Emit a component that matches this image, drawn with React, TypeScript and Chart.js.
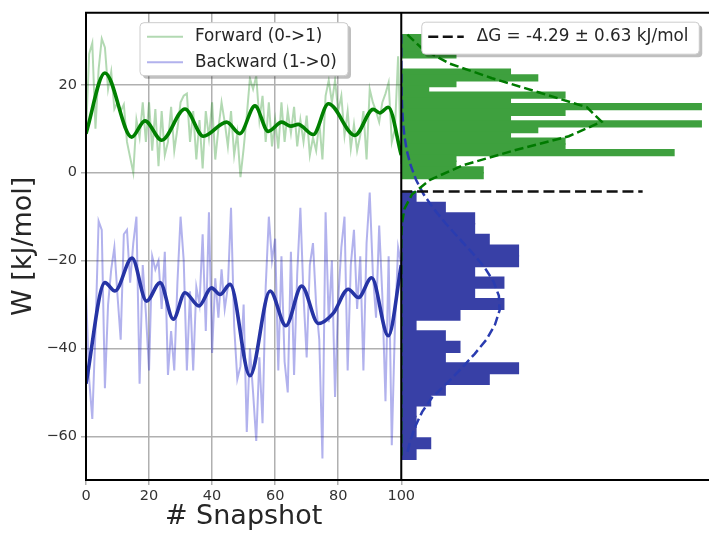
import React, { useEffect, useRef } from "react";
import { Chart, registerables } from "chart.js";

Chart.register(...registerables);

// ---------------- data ----------------
const snapshots = Array.from({ length: 101 }, (_, i) => i);

const forwardRaw = [
  9, 27, 29.5, 10, 23.5, 30.5, 28.5, 19, 23, 14.5,
  16, 14, 15.5, 7, 3.5, 0, 12, 8, 16, 7,
  16, 5, 14.5, 1.5, 14, 4, 7, 15, 5, 10,
  16, 17.5, 18, 7, 14, 3, 12, 1, 14, 8,
  16, 3, 10, 16, 11.5, 6, 14, 4, 9, -1,
  5.5, 13, 21.5, 19, 22, 12, 17.5, 7, 16, 6,
  12, 5.5, 16, 7, 14, 9, 15, 6, 12, 7,
  13, 4, 8, 5, 11.5, 3, 17.5, 21, 16, 21,
  14, 17.5, 8.5, 14, 5.5, 11, 5, 8.5, 14, 3,
  19, 16, 14, 11.5, 16, 18, 20.5, 7, 10, 26.5,
  2,
];

const backwardRaw = [
  -27, -47, -56, -36, -11, -13, -49, -30, -22, -17,
  -28, -38, -14, -13, -25, -16, -10, -48, -21, -32,
  -45, -19, -22, -20, -31, -18, -46, -36, -45, -25,
  -10, -20, -45, -27, -45, -26, -30, -14, -36, -9,
  -41, -24, -33, -22, -31, -26, -8, -35, -47, -44,
  -30, -59, -40, -50, -61, -42, -57, -26, -10, -20,
  -15, -45, -19, -43, -50, -18, -46, -23, -8, -28,
  -42, -21, -16, -30, -38, -65, -9, -34, -20, -51,
  -29, -17, -10, -45, -21, -13, -31, -19, -45, -16,
  -4.5, -23, -33, -12, -28, -52, -19, -62, -35, -17,
  -21,
];

// smoothed curves (read at their turning points)
const forwardSmoothX = [0, 6, 14.5, 18.7, 24, 31.4, 37.2, 44.6, 48.8, 53.6, 57.8, 62.1, 65, 67.3, 72.1, 76.9, 85.3, 91.1, 93.2, 95.9, 100];
const forwardSmoothY = [8.9, 22.7, 8.1, 11.8, 7.4, 14.5, 8.3, 11.5, 8.9, 15.2, 9.4, 11.5, 10.6, 11.0, 8.7, 15.7, 8.5, 14.4, 13.6, 14.9, 4.0];

const backwardSmoothX = [0, 6, 9.2, 14.6, 19.2, 23.5, 27.7, 31.4, 35.8, 39.8, 42.5, 45.7, 52, 58.4, 63.4, 68.4, 73.7, 78.4, 83.2, 86.4, 90.6, 95.9, 100];
const backwardSmoothY = [-48, -25, -26.9, -19.4, -29.2, -25.0, -33.3, -27.3, -30.3, -26.2, -27.7, -25.4, -46.2, -26.9, -34.8, -25.8, -34.3, -32.0, -26.5, -28.4, -23.9, -37.1, -21.0];

// histograms
const N_SAMPLES = 101;
const forwardBinTop = 31.4;
const forwardBinWidth = 1.308;
const forwardCounts = [2, 2, 2, 2, 0, 0, 4, 5, 2, 1, 6, 4, 11, 6, 4, 11, 5, 4, 6, 6, 10, 2, 2, 3, 3];
const backwardBinTop = -4.3;
const backwardBinWidth = 2.436;
const backwardCounts = [1, 3, 5, 5, 6, 8, 8, 5, 7, 5, 7, 4, 1, 3, 4, 3, 8, 6, 3, 2, 1, 1, 1, 2, 1];

// fitted gaussian curves (density)
const gaussW = [31.4, 28.1, 24.8, 21.5, 18.2, 14.9, 11.6, 8.3, 5.0, 1.7, -1.6, -4.9, -8.2, -11.5, -14.8, -18.1, -21.4, -24.7, -28.0, -31.3, -34.6, -37.9, -41.2, -44.5, -47.8, -51.1, -54.4, -57.7, -61.0, -64.3];
const forwardGauss = [0.0017, 0.006, 0.0135, 0.0252, 0.0385, 0.0515, 0.0556, 0.0465, 0.031, 0.0172, 0.008, 0.003, 0.0009, 0.0002, 0.00003, 0, 0, 0, 0, 0, 0, 0, 0, 0, 0, 0, 0, 0, 0, 0];
const backwardGauss = [0.000004, 0.00001, 0.00002, 0.00005, 0.0001, 0.00024, 0.00047, 0.00089, 0.00155, 0.0026, 0.0041, 0.0062, 0.009, 0.0123, 0.0159, 0.0196, 0.023, 0.0256, 0.0271, 0.0273, 0.026, 0.0237, 0.0204, 0.0167, 0.0128, 0.0086, 0.0058, 0.0039, 0.0025, 0.0015];

const deltaG = -4.29;
const deltaGErr = 0.63;
const deltaGLineEnd = 0.067;

const xTickValues = [0, 20, 40, 60, 80, 100];
const yTickValues = [-60, -40, -20, 0, 20];

const legendLabels = ["Forward (0->1)", "Backward (1->0)"];
const deltaGLabel = `\u0394G = ${deltaG.toFixed(2)} \u00b1 ${deltaGErr.toFixed(2)} kJ/mol`;

// ---------------- styles ----------------
const FONT = '"DejaVu Sans", "Liberation Sans", sans-serif';
const C_RAW_F = "rgba(0,128,0,0.3)";
const C_RAW_B = "rgba(20,20,200,0.33)";
const C_SM_F = "#008000";
const C_SM_B = "rgb(38,52,165)";
const C_BAR_F = "rgb(62,160,62)";
const C_BAR_B = "rgb(56,64,166)";
const C_GAUSS_F = "#007a00";
const C_GAUSS_B = "#2a3cb0";
const GRID = "#b0b0b0";
const TEXT = "#262626";

function fmtTick(v: number) {
  return v < 0 ? "\u2212" + Math.abs(v) : String(v);
}

function roundRectPath(ctx: CanvasRenderingContext2D, x: number, y: number, w: number, h: number, r: number) {
  ctx.beginPath();
  ctx.moveTo(x + r, y);
  ctx.arcTo(x + w, y, x + w, y + h, r);
  ctx.arcTo(x + w, y + h, x, y + h, r);
  ctx.arcTo(x, y + h, x, y, r);
  ctx.arcTo(x, y, x + w, y, r);
  ctx.closePath();
}

const maskPlugin = {
  id: "rightPanelMask",
  beforeDatasetsDraw(chart: any) {
    const { ctx, chartArea } = chart;
    const x2 = chart.scales.x2;
    ctx.save();
    ctx.fillStyle = "#ffffff";
    ctx.fillRect(x2.left + 1, chartArea.top, x2.right - x2.left, chartArea.bottom - chartArea.top);
    ctx.restore();
  },
};

const framePlugin = {
  id: "panelFrame",
  afterDatasetsDraw(chart: any) {
    const { ctx, chartArea } = chart;
    const x2 = chart.scales.x2;
    ctx.save();
    ctx.strokeStyle = "#000";
    ctx.lineWidth = 2;
    ctx.beginPath();
    ctx.moveTo(chartArea.left, chartArea.top);
    ctx.lineTo(chartArea.right, chartArea.top);
    ctx.moveTo(chartArea.left, chartArea.bottom);
    ctx.lineTo(chartArea.right, chartArea.bottom);
    ctx.moveTo(chartArea.left, chartArea.top - 1);
    ctx.lineTo(chartArea.left, chartArea.bottom + 1);
    ctx.moveTo(x2.left, chartArea.top - 1);
    ctx.lineTo(x2.left, chartArea.bottom + 1);
    ctx.moveTo(chartArea.right, chartArea.top - 1);
    ctx.lineTo(chartArea.right, chartArea.bottom + 1);
    ctx.stroke();
    ctx.restore();
  },
};

const legendPlugin = {
  id: "legendBoxes",
  afterDraw(chart: any) {
    const { ctx, chartArea } = chart;
    const x2 = chart.scales.x2;
    const box = (x: number, y: number, w: number, h: number) => {
      ctx.fillStyle = "rgba(0,0,0,0.25)";
      roundRectPath(ctx, x + 3, y + 3, w, h, 4);
      ctx.fill();
      ctx.fillStyle = "#ffffff";
      roundRectPath(ctx, x, y, w, h, 4);
      ctx.fill();
      ctx.strokeStyle = "#cccccc";
      ctx.lineWidth = 1;
      ctx.stroke();
    };
    ctx.save();
    ctx.font = `16.8px ${FONT}`;
    ctx.textBaseline = "middle";
    ctx.textAlign = "left";

    // left legend
    const lx = chartArea.left + 54;
    const ly = chartArea.top + 10;
    box(lx, ly, 208, 53);
    const rows = [
      { label: legendLabels[0], color: C_RAW_F, y: ly + 14 },
      { label: legendLabels[1], color: C_RAW_B, y: ly + 39.5 },
    ];
    rows.forEach((r) => {
      ctx.strokeStyle = r.color;
      ctx.lineWidth = 2;
      ctx.setLineDash([]);
      ctx.beginPath();
      ctx.moveTo(lx + 7, r.y);
      ctx.lineTo(lx + 43, r.y);
      ctx.stroke();
      ctx.fillStyle = TEXT;
      ctx.fillText(r.label, lx + 55, r.y);
    });

    // right legend
    const rx = x2.left + 20.5;
    const ry = chartArea.top + 9.5;
    box(rx, ry, 277.5, 32);
    const cy = ry + 14.5;
    ctx.strokeStyle = "#111";
    ctx.lineWidth = 2.5;
    ctx.setLineDash([10, 4.5]);
    ctx.beginPath();
    ctx.moveTo(rx + 6.5, cy);
    ctx.lineTo(rx + 42, cy);
    ctx.stroke();
    ctx.setLineDash([]);
    ctx.fillStyle = TEXT;
    ctx.fillText(deltaGLabel, rx + 55, cy);
    ctx.restore();
  },
};

export default function App() {
  const ref = useRef<HTMLCanvasElement>(null);

  useEffect(() => {
    const canvas = ref.current;
    if (!canvas) return;

    const fCenters = forwardCounts.map((_, k) => forwardBinTop - forwardBinWidth * (k + 0.5));
    const bCenters = backwardCounts.map((_, k) => backwardBinTop - backwardBinWidth * (k + 0.5));

    const chart = new Chart(canvas, {
      type: "line",
      data: {
        datasets: [
          {
            type: "line",
            data: [{ x: 0, y: deltaG }, { x: deltaGLineEnd, y: deltaG }],
            xAxisID: "x2",
            yAxisID: "y",
            borderColor: "#111",
            borderWidth: 2.5,
            borderDash: [11, 4.8],
            pointRadius: 0,
            order: 1,
          } as any,
          {
            type: "line",
            indexAxis: "y",
            data: gaussW.map((w, k) => ({ x: forwardGauss[k], y: w })),
            xAxisID: "x2",
            yAxisID: "y",
            borderColor: C_GAUSS_F,
            borderWidth: 2.5,
            borderDash: [9, 4],
            pointRadius: 0,
            tension: 0,
            order: 2,
          } as any,
          {
            type: "line",
            indexAxis: "y",
            data: gaussW.map((w, k) => ({ x: backwardGauss[k], y: w })),
            xAxisID: "x2",
            yAxisID: "y",
            borderColor: C_GAUSS_B,
            borderWidth: 2.5,
            borderDash: [9, 4],
            pointRadius: 0,
            tension: 0,
            order: 2,
          } as any,
          {
            type: "bar",
            indexAxis: "y",
            data: forwardCounts.map((c, k) => ({ x: c / (N_SAMPLES * forwardBinWidth), y: fCenters[k] })),
            xAxisID: "x2",
            yAxisID: "y",
            backgroundColor: C_BAR_F,
            borderWidth: 0,
            inflateAmount: 0.7,
            grouped: false,
            barPercentage: 1,
            categoryPercentage: 1,
            order: 3,
          } as any,
          {
            type: "bar",
            indexAxis: "y",
            data: backwardCounts.map((c, k) => ({ x: c / (N_SAMPLES * backwardBinWidth), y: bCenters[k] })),
            xAxisID: "x2",
            yAxisID: "y",
            backgroundColor: C_BAR_B,
            borderWidth: 0,
            inflateAmount: 0.7,
            grouped: false,
            barPercentage: backwardBinWidth / forwardBinWidth,
            categoryPercentage: 1,
            order: 3,
          } as any,
          {
            type: "line",
            data: forwardSmoothX.map((x, k) => ({ x, y: forwardSmoothY[k] })),
            xAxisID: "x",
            yAxisID: "y",
            borderColor: C_SM_F,
            borderWidth: 3.6,
            pointRadius: 0,
            cubicInterpolationMode: "monotone",
            order: 4,
          } as any,
          {
            type: "line",
            data: backwardSmoothX.map((x, k) => ({ x, y: backwardSmoothY[k] })),
            xAxisID: "x",
            yAxisID: "y",
            borderColor: C_SM_B,
            borderWidth: 3.6,
            pointRadius: 0,
            cubicInterpolationMode: "monotone",
            order: 4,
          } as any,
          {
            type: "line",
            data: snapshots.map((s, k) => ({ x: s, y: forwardRaw[k] })),
            xAxisID: "x",
            yAxisID: "y",
            borderColor: C_RAW_F,
            borderWidth: 2,
            pointRadius: 0,
            tension: 0,
            order: 5,
          } as any,
          {
            type: "line",
            data: snapshots.map((s, k) => ({ x: s, y: backwardRaw[k] })),
            xAxisID: "x",
            yAxisID: "y",
            borderColor: C_RAW_B,
            borderWidth: 2,
            pointRadius: 0,
            tension: 0,
            order: 5,
          } as any,
        ],
      },
      options: {
        responsive: false,
        animation: false,
        devicePixelRatio: 1,
        events: [],
        layout: { padding: { left: 0, top: 10, right: 23.5, bottom: 0 } },
        plugins: {
          legend: { display: false },
          tooltip: { enabled: false },
        },
        scales: {
          x: {
            type: "linear",
            position: "bottom",
            stack: "bottomRow",
            stackWeight: 1,
            offset: false,
            min: 0,
            max: 100,
            afterFit: (s: any) => {
              s.height = 56;
            },
            afterBuildTicks: (s: any) => {
              s.ticks = xTickValues.map((v) => ({ value: v }));
            },
            ticks: {
              font: { family: FONT, size: 14.5 },
              color: "#333333",
              padding: 3,
              maxRotation: 0,
              autoSkip: false,
              callback: (v: any) => fmtTick(Number(v)),
            },
            grid: { color: GRID, lineWidth: 1.5, tickLength: 5, offset: false },
            border: { display: true, color: "#000", width: 2 },
            title: {
              display: true,
              text: "# Snapshot",
              font: { family: FONT, size: 27 },
              color: TEXT,
              padding: { top: 0, bottom: 2.5 },
            },
          },
          x2: {
            type: "linear",
            position: "bottom",
            stack: "bottomRow",
            stackWeight: 1,
            offset: false,
            min: 0,
            max: 0.0875,
            afterFit: (s: any) => {
              s.height = 56;
            },
            ticks: { display: false },
            grid: { display: false, offset: false },
            border: { display: true, color: "#000", width: 2 },
          },
          y: {
            type: "linear",
            position: "left",
            offset: false,
            min: -69.9,
            max: 36.4,
            afterFit: (s: any) => {
              s.width = 86;
            },
            afterBuildTicks: (s: any) => {
              s.ticks = yTickValues.map((v) => ({ value: v }));
            },
            ticks: {
              font: { family: FONT, size: 14.5 },
              color: "#333333",
              padding: 4,
              callback: (v: any) => fmtTick(Number(v)),
            },
            grid: { color: GRID, lineWidth: 1.5, tickLength: 5, offset: false },
            border: { display: true, color: "#000", width: 2 },
            title: {
              display: true,
              text: "W [kJ/mol]",
              font: { family: FONT, size: 27 },
              color: TEXT,
              padding: { top: 8, bottom: 0 },
            },
          },
        } as any,
      },
      plugins: [maskPlugin, framePlugin, legendPlugin],
    } as any);

    return () => chart.destroy();
  }, []);

  return (
    <div
      style={{
        position: "fixed",
        left: 0,
        top: 0,
        width: 709,
        height: 536,
        overflow: "hidden",
        background: "#ffffff",
      }}
    >
      <canvas ref={ref} width={740} height={536} style={{ display: "block", width: 740, height: 536 }} />
    </div>
  );
}
